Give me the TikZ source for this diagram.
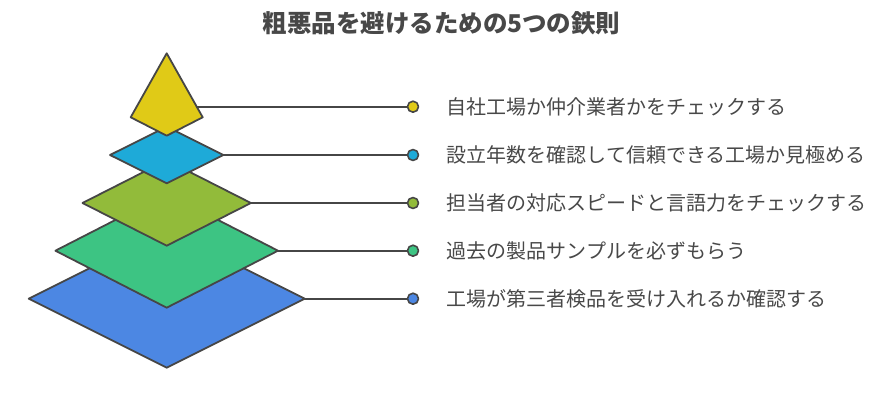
\documentclass[tikz,border=0pt]{standalone}
\usepackage{fontspec}
\setmainfont{Noto Sans CJK JP}
\definecolor{edge}{RGB}{70,70,70}
\definecolor{ink}{RGB}{72,72,72}
\definecolor{layA}{RGB}{224,202,23}
\definecolor{layB}{RGB}{30,170,216}
\definecolor{layC}{RGB}{146,187,58}
\definecolor{layD}{RGB}{61,196,131}
\definecolor{layE}{RGB}{76,135,227}
\begin{document}
\begin{tikzpicture}[x=1pt,y=-1pt,line join=round,line cap=round,font=\fontsize{20}{24}\selectfont]
	\def\cx{166.7}\def\dotx{413}\def\txtx{446.5}
	\tikzset{lay/.style={draw=edge,line width=1.8pt},
		dot/.style={circle,draw=edge,line width=1.6pt,inner sep=0pt,minimum size=11pt},
		lbl/.style={anchor=west,text=ink,inner sep=0pt}}
	\useasboundingbox (0,0) rectangle (896,395);
	
	\node[font=\bfseries\fontsize{24.5}{28}\selectfont,text=ink](title) at (441.5,23){粗悪品を避けるための5つの鉄則};
	\foreach \n/\w/\h/\y/\c in {e/138/69/298.7/layE,d/111.3/57/250.7/layD,c/84.2/42.7/203/layC,b/56.7/28.3/155/layB}{
		\filldraw[lay,fill=\c] (\cx-\w,\y)--(\cx,\y-\h)--(\cx+\w,\y)coordinate(\n R)--(\cx,\y+\h)--cycle;	}
	\filldraw[lay,fill=layA] (\cx,53.3)--(202.7,117.3)--(\cx,135.7)--(130.7,117.3)--cycle;
	\coordinate (aR) at (196.7,106.7);
	
	\foreach \n/\y/\c/\t in {a/106.7/layA/自社工場か仲介業者かをチェックする,
		b/155/layB/設立年数を確認して信頼できる工場か見極める,
		c/203/layC/担当者の対応スピードと言語力をチェックする,
		d/250.7/layD/過去の製品サンプルを必ずもらう,
		e/298.7/layE/工場が第三者検品を受け入れるか確認する}{
		\node[dot,fill=\c](\n D) at (\dotx,\y){};
		\draw[lay] (\n R)--(\n D);
		\node[lbl](\n T) at (\txtx,\y){\t};	}
\end{tikzpicture}
\end{document}
